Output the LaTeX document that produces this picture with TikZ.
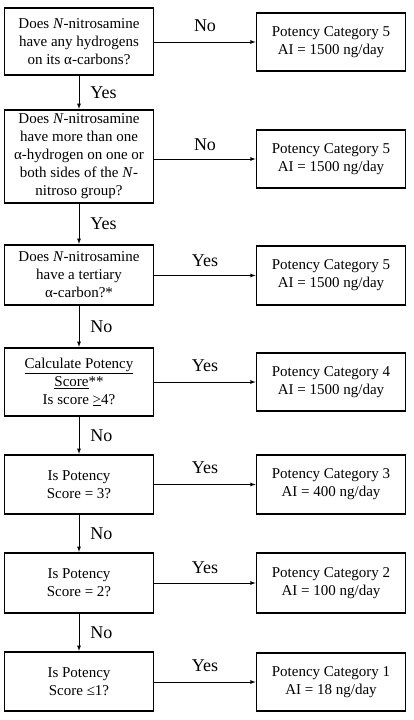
\documentclass[tikz,border=0pt]{standalone}
\usepackage{fontspec}
\setmainfont{Liberation Serif}

\begin{document}
\begin{tikzpicture}[x=1pt,y=-1pt,>=latex,
  ques/.style={draw,line width=1.8pt,align=center,minimum width=149pt,inner sep=1pt,
    font=\fontsize{15}{18}\selectfont},
  cat/.style={ques},
  lab/.style={inner sep=0pt,font=\fontsize{18}{20}\selectfont},
  flow/.style={->,line width=0.8pt}]
\useasboundingbox (0,0) rectangle (414,720);
% questions, left column
\node [ques,minimum height=67.5pt] (q1) at (79,41.5) {Does \textit{N}-nitrosamine\\have any hydrogens\\on its α-carbons?};
\node [ques,minimum height=93.5pt] (q2) at (79,156.5) {Does \textit{N}-nitrosamine\\have more than one\\α-hydrogen on one or\\both sides of the \textit{N}-\\nitroso group?};
\node [ques,minimum height=60.5pt] (q3) at (79,275) {Does \textit{N}-nitrosamine\\have a tertiary\\α-carbon?*};
\node [ques,minimum height=68.5pt] (q4) at (79,382) {\underline{Calculate Potency}\\\underline{Score}**\\Is score \underline{>}4?};
\node [ques,minimum height=59.5pt] (q5) at (79,484.5) {Is Potency\\Score = 3?};
\node [ques,minimum height=60.5pt] (q6) at (79,583) {Is Potency\\Score = 2?};
\node [ques,minimum height=59.5pt] (q7) at (79,681.5) {Is Potency\\Score ≤1?};
% categories, right column
\node [cat,minimum height=58.5pt] (r1) at (331,42) {Potency Category 5\\AI = 1500 ng/day};
\node [cat,minimum height=58.5pt] (r2) at (331,159) {Potency Category 5\\AI = 1500 ng/day};
\node [cat,minimum height=59.5pt] (r3) at (331,275.5) {Potency Category 5\\AI = 1500 ng/day};
\node [cat,minimum height=58.5pt] (r4) at (331,382) {Potency Category 4\\AI = 1500 ng/day};
\node [cat,minimum height=59.5pt] (r5) at (331,484.5) {Potency Category 3\\AI = 400 ng/day};
\node [cat,minimum height=60.5pt] (r6) at (331,583) {Potency Category 2\\AI = 100 ng/day};
\node [cat,minimum height=58.5pt] (r7) at (331,682) {Potency Category 1\\AI = 18 ng/day};
% down the left column
\draw [flow] (q1) -- node [lab,right=11pt] {Yes} (q2);
\draw [flow] (q2) -- node [lab,right=11pt] {Yes} (q3);
\draw [flow] (q3) -- node [lab,right=11pt] {No} (q4);
\draw [flow] (q4) -- node [lab,right=11pt] {No} (q5);
\draw [flow] (q5) -- node [lab,right=11pt] {No} (q6);
\draw [flow] (q6) -- node [lab,right=11pt] {No} (q7);
% across to the categories
\draw [flow] (q1.east |- r1) -- node [lab,above=10pt] {No} (r1.west);
\draw [flow] (q2.east |- r2) -- node [lab,above=8pt] {No} (r2.west);
\draw [flow] (q3.east |- r3) -- node [lab,above=8pt] {Yes} (r3.west);
\draw [flow] (q4.east |- r4) -- node [lab,above=10pt] {Yes} (r4.west);
\draw [flow] (q5.east |- r5) -- node [lab,above=10pt] {Yes} (r5.west);
\draw [flow] (q6.east |- r6) -- node [lab,above=9pt] {Yes} (r6.west);
\draw [flow] (q7.east |- r7) -- node [lab,above=10pt] {Yes} (r7.west);
\end{tikzpicture}
\end{document}
